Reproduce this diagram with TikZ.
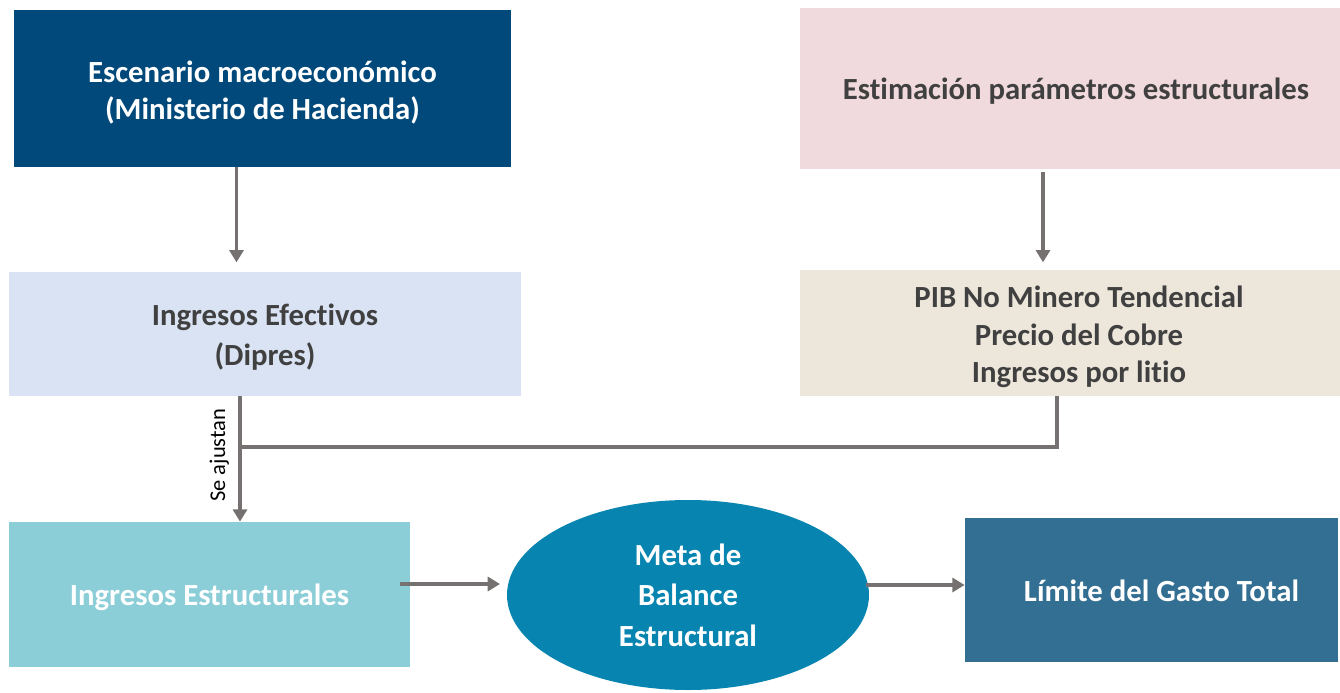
\documentclass[tikz,border=0pt]{standalone}
\usepackage{fontspec}
\setmainfont{Carlito}[Ligatures=NoCommon]
\usetikzlibrary{arrows.meta,shapes.geometric}

\definecolor{navy}{HTML}{00497A}
\definecolor{rosa}{HTML}{F0DADD}
\definecolor{celeste}{HTML}{DAE3F3}
\definecolor{beige}{HTML}{EDE6DB}
\definecolor{turquesa}{HTML}{8CCED8}
\definecolor{azul}{HTML}{0784B0}
\definecolor{acero}{HTML}{336F92}
\definecolor{texto}{HTML}{404040}
\definecolor{flecha}{HTML}{767171}

\begin{document}
\begin{tikzpicture}[x=0.02cm, y=-0.02cm,
        caja/.style = {rectangle, inner sep=0pt},
        rotulo/.style = {inner sep=0pt, align=center,
            font=\fontsize{17.5}{21.5}\selectfont\bfseries},
        linea/.style = {draw=flecha, line width=1.8pt},
        flechita/.style = {linea, -{Triangle[length=7pt, width=8pt]}}]
        \useasboundingbox (0,0) rectangle (1340,693);

        % cajas
        \node [caja, fill=navy, minimum width=497*0.02cm,
            minimum height=157*0.02cm] (esc) at (262.5,88.5) {};
        \node [caja, fill=rosa, minimum width=540*0.02cm,
            minimum height=161*0.02cm] (est) at (1070,88.5) {};
        \node [caja, fill=celeste, minimum width=512*0.02cm,
            minimum height=124*0.02cm] (ief) at (265,334) {};
        \node [caja, fill=beige, minimum width=540*0.02cm,
            minimum height=126*0.02cm] (pib) at (1070,333) {};
        \node [caja, fill=turquesa, minimum width=401*0.02cm,
            minimum height=145*0.02cm] (ies) at (209.5,594.5) {};
        \node [ellipse, inner sep=0pt, fill=azul, minimum width=362*0.02cm,
            minimum height=190*0.02cm] (meta) at (688,595) {};
        \node [caja, fill=acero, minimum width=373*0.02cm,
            minimum height=144*0.02cm] (lim) at (1151.5,590) {};

        % textos
        \node [rotulo, text=white] (esc-t) at ([yshift=-4*0.02cm]esc.center)
            {Escenario macroecon\'omico\\(Ministerio de Hacienda)};
        \node [rotulo, text=texto] (est-t) at ([xshift=6*0.02cm, yshift=-3*0.02cm]est.center)
            {Estimaci\'on par\'ametros estructurales};
        \node [rotulo, text=texto, font=\fontsize{17.5}{23}\selectfont\bfseries]
            (ief-t) at ([yshift=-3*0.02cm]ief.center)
            {Ingresos Efectivos\\(Dipres)};
        \node [rotulo, text=texto] (pib-t) at ([xshift=9*0.02cm, yshift=-4*0.02cm]pib.center)
            {PIB No Minero Tendencial\\Precio del Cobre\\Ingresos por litio};
        \node [rotulo, text=white] (ies-t) at ([yshift=-3*0.02cm]ies.center)
            {Ingresos Estructurales};
        \node [rotulo, text=white, font=\fontsize{17.5}{23}\selectfont\bfseries]
            (meta-t) at (meta.center) {Meta de\\Balance\\Estructural};
        \node [rotulo, text=white] (lim-t) at ([xshift=10*0.02cm, yshift=-1*0.02cm]lim.center)
            {L\'imite del Gasto Total};

        \coordinate (junta) at (240,447);
        \coordinate (bajada) at (1057,447);
        \coordinate (punta) at (500,584);

        % flechas
        \draw [flechita] ([xshift=-26*0.02cm]esc.south) -- ++(0,95);
        \draw [flechita] ([xshift=-27*0.02cm, yshift=-3*0.02cm]est.south) -- ++(0,90);
        \draw [flechita] (ief.south -| junta) -- (ies.north -| junta)
            node [pos=0.47, left=2pt, rotate=90, anchor=south,
            font=\fontsize{12.8}{14}\selectfont, text=black] {Se ajustan};
        \draw [linea] (pib.south -| bajada) -- (bajada) -- (junta);
        \draw [flechita] ([xshift=-10*0.02cm]ies.east |- punta) -- (punta);
        \draw [flechita] (866,585) -- (lim.west |- 0,585);
    \end{tikzpicture}
\end{document}
